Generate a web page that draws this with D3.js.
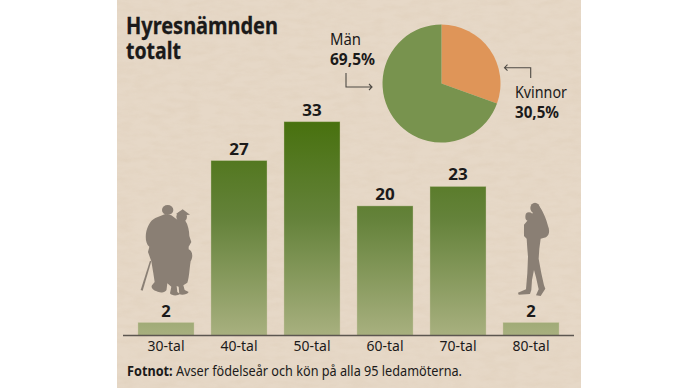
<!DOCTYPE html>
<html>
<head>
<meta charset="utf-8">
<script src="https://cdn.jsdelivr.net/npm/d3@7"></script>
<style>
  html, body { margin: 0; padding: 0; background: #fff; overflow: hidden; }
  svg { display: block; }
  text { font-family: "Noto Sans", sans-serif; fill: #1b1a1a; }
</style>
</head>
<body>
<div id="chart"></div>
<script>
const decades = ['30-tal', '40-tal', '50-tal', '60-tal', '70-tal', '80-tal'];
const members = [2, 27, 33, 20, 23, 2];
const genders = ['Kvinnor', 'Män'];
const shares = [30.5, 69.5];
const shareLabels = ['30,5%', '69,5%'];
const titleLines = ['Hyresnämnden', 'totalt'];

const width = 693;
const height = 389;
const baseline = 335.5;

const svg = d3.select('#chart').append('svg').attr('width', width).attr('height', height);
const defs = svg.append('defs');

// paper grain
const paper = defs.append('filter').attr('id', 'paper')
  .attr('x', 0).attr('y', 0).attr('width', 1).attr('height', 1);
paper.append('feTurbulence').attr('type', 'fractalNoise')
  .attr('baseFrequency', '0.06 0.16').attr('numOctaves', 5).attr('seed', 11);
paper.append('feColorMatrix').attr('type', 'matrix')
  .attr('values', '0 0 0 0 0.66  0 0 0 0 0.53  0 0 0 0 0.38  0.6 0.6 0 0 -0.45');

const barFill = defs.append('linearGradient').attr('id', 'barFill')
  .attr('gradientUnits', 'userSpaceOnUse')
  .attr('x1', 0).attr('x2', 0).attr('y1', 122).attr('y2', baseline);
barFill.append('stop').attr('offset', '0%').attr('stop-color', '#48710f');
barFill.append('stop').attr('offset', '45%').attr('stop-color', '#64823a');
barFill.append('stop').attr('offset', '100%').attr('stop-color', '#a8b07f');

svg.append('rect').attr('x', 117).attr('y', 0).attr('width', 464).attr('height', 388)
  .attr('fill', '#e6d8c7');
svg.append('rect').attr('x', 117).attr('y', 0).attr('width', 464).attr('height', 388)
  .attr('filter', 'url(#paper)').attr('opacity', 0.4);

// title
svg.append('g').selectAll('text').data(titleLines).join('text')
  .attr('x', 126)
  .attr('y', (d, i) => 34 + i * 25)
  .attr('font-size', 24)
  .attr('font-weight', 700)
  .attr('stroke', '#1b1a1a').attr('stroke-width', 0.3)
  .attr('textLength', (d, i) => (i === 0 ? 152 : 55))
  .attr('lengthAdjust', 'spacingAndGlyphs')
  .text(d => d);

// bars
const x = d3.scaleBand().domain(decades).range([138, 559]).paddingInner(17 / 73).paddingOuter(0);
const y = d3.scaleLinear().domain([0, 33]).range([baseline, 121.7]);

svg.append('g').selectAll('rect').data(members).join('rect')
  .attr('x', (d, i) => x(decades[i]))
  .attr('y', d => y(d))
  .attr('width', x.bandwidth())
  .attr('height', d => y(0) - y(d))
  .attr('fill', 'url(#barFill)')
  .attr('stroke', '#cfc9a6').attr('stroke-opacity', 0.45).attr('stroke-width', 0.8);

svg.append('g').selectAll('text').data(members).join('text')
  .attr('x', (d, i) => x(decades[i]) + x.bandwidth() / 2)
  .attr('y', d => y(d) - 6)
  .attr('text-anchor', 'middle')
  .attr('font-size', 16.5)
  .attr('font-weight', 700)
  .attr('textLength', d => (d < 10 ? 9.5 : 19.5))
  .attr('lengthAdjust', 'spacingAndGlyphs')
  .text(d => d);

// axis
const axis = svg.append('g').attr('transform', 'translate(0,' + baseline + ')')
  .call(d3.axisBottom(x).tickSize(0).tickPadding(0));
axis.select('.domain').remove();
axis.selectAll('text')
  .attr('y', 15.5)
  .attr('dy', 0)
  .attr('font-size', 15)
  .attr('textLength', 37)
  .attr('lengthAdjust', 'spacingAndGlyphs')
  .style('font-family', '"Noto Sans", sans-serif')
  .attr('fill', '#1b1a1a');
svg.append('line').attr('x1', 123).attr('x2', 574).attr('y1', baseline).attr('y2', baseline)
  .attr('stroke', '#5c5650').attr('stroke-width', 1.4);

// footnote
const note = svg.append('text').attr('x', 127).attr('y', 376).attr('font-size', 14)
  .attr('textLength', 335).attr('lengthAdjust', 'spacingAndGlyphs');
note.append('tspan').attr('font-weight', 700).text('Fotnot:');
note.append('tspan').text(' Avser födelseår och kön på alla 95 ledamöterna.');

// pie
const pie = d3.pie().sort(null).value(d => d);
const arc = d3.arc().innerRadius(0).outerRadius(59);
const pieColors = d3.scaleOrdinal().domain(genders).range(['#df9558', '#78934e']);

svg.append('g').attr('transform', 'translate(441.5,83.5)')
  .selectAll('path').data(pie(shares)).join('path')
  .attr('d', arc)
  .attr('fill', (d, i) => pieColors(genders[i]));

// pie labels: x, name baseline, share baseline, name width, share width
const labelSpots = [[515, 98, 118, 52, 44], [330, 45, 65, 31, 45]];
genders.forEach((g, i) => {
  const s = labelSpots[i];
  svg.append('text').attr('x', s[0]).attr('y', s[1]).attr('font-size', 16)
    .attr('textLength', s[3]).attr('lengthAdjust', 'spacingAndGlyphs').text(g);
  svg.append('text').attr('x', s[0]).attr('y', s[2]).attr('font-size', 16).attr('font-weight', 700)
    .attr('textLength', s[4]).attr('lengthAdjust', 'spacingAndGlyphs').text(shareLabels[i]);
});

// small elbow arrows
const arrows = svg.append('g').attr('fill', 'none').attr('stroke', '#4e4a44').attr('stroke-width', 1.1);
arrows.append('path').attr('d', 'M346,73V87H372M369,84l3,3l-3,3');
arrows.append('path').attr('d', 'M530.7,78V67.7H504.5M507.5,64.7l-3,3l3,3');

// silhouettes, drawn in the units of a 3x crop
const shapes = svg.append('g').attr('fill', '#8a7f74');
const couple = shapes.append('g').attr('transform', 'translate(110,190) scale(0.3333)');
couple.append('ellipse').attr('cx', 173).attr('cy', 60).attr('rx', 17).attr('ry', 15);
couple.append('ellipse').attr('cx', 215).attr('cy', 80).attr('rx', 16).attr('ry', 16);
couple.append('path').attr('d', 'M198,72L218,58L240,74L216,76Z');
couple.append('path').attr('d', 'M136,84L166,72L184,76L200,88L226,92C234,104 238,122 238,138L244,156L236,170L236,178C248,184 250,200 242,214C238,238 238,262 232,278L220,286L224,300L236,306C232,314 214,316 208,312L206,290L200,288L202,306L210,312C204,318 184,318 180,310L184,290L172,280L170,296C170,308 150,310 140,304C128,300 122,292 126,286L134,276L130,250L124,214L114,186L118,170C108,162 106,146 108,130C112,110 120,92 136,84Z');
couple.append('path').attr('d', 'M120,212L124,214L98,302L92,300Z');
const mother = shapes.append('g').attr('transform', 'translate(470,190) scale(0.3333)');
mother.append('ellipse').attr('cx', 195).attr('cy', 54).attr('rx', 14).attr('ry', 16);
mother.append('ellipse').attr('cx', 177).attr('cy', 80).attr('rx', 11).attr('ry', 13);
mother.append('path').attr('d', 'M204,44C216,56 230,88 234,108C240,122 238,136 228,142L212,146L208,176L206,206L214,250L222,286L226,296L212,318L198,316L206,298L198,262L192,240L186,270L184,300L180,312L146,314L144,308L168,298L172,250L174,200L172,176L170,146L162,138L162,104L172,92L190,66Z');
  </script>
</body>
</html>
